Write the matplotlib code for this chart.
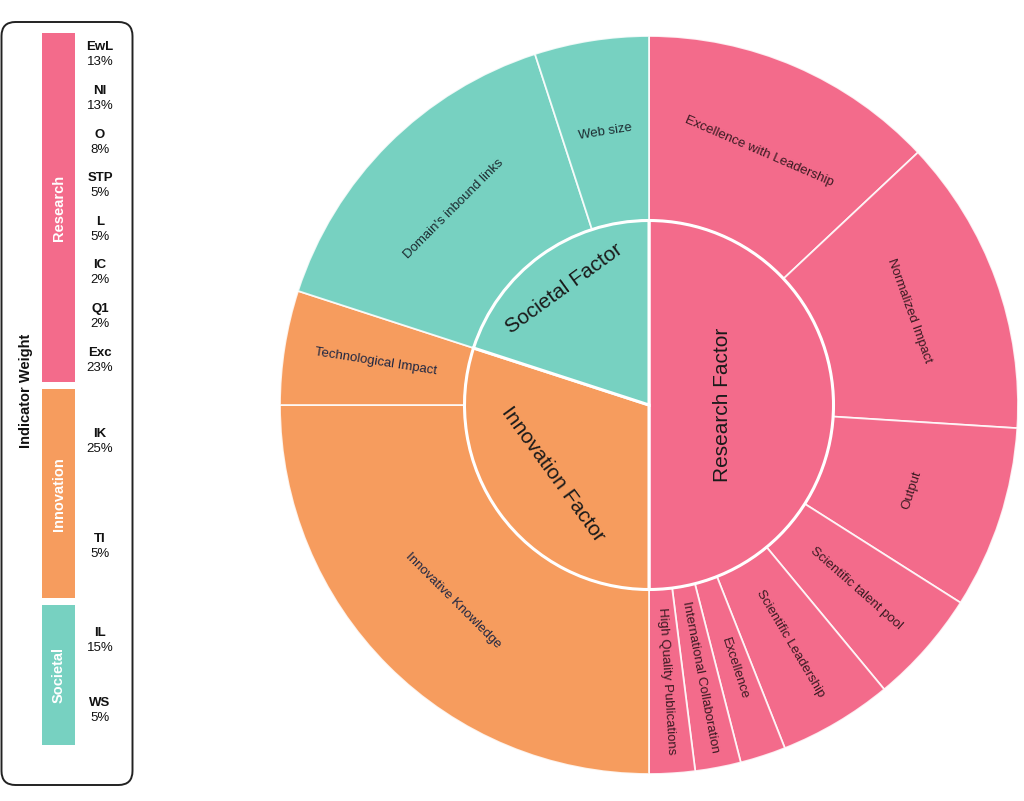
import matplotlib
matplotlib.use("Agg")
import matplotlib.pyplot as plt
import numpy as np
from matplotlib.patches import FancyBboxPatch

plt.rcParams['font.family'] = ['Liberation Sans', 'DejaVu Sans']

# ---------------- data ----------------
factors = ["Research Factor", "Innovation Factor", "Societal Factor"]
indicators = ["Excellence with Leadership", "Normalized Impact", "Output",
              "Scientific talent pool", "Scientific Leadership", "Excellence",
              "International Collaboration", "High Quality Publications",
              "Innovative Knowledge", "Technological Impact",
              "Domain's inbound links", "Web size"]
indicator_weights = [13, 13, 8, 5, 5, 2, 2, 2, 25, 5, 15, 5]
indicator_factor = [0, 0, 0, 0, 0, 0, 0, 0, 1, 1, 2, 2]

legend_groups = ["Research", "Innovation", "Societal"]
legend_codes = [["EwL", "NI", "O", "STP", "L", "IC", "Q1", "Exc"],
                ["IK", "TI"],
                ["IL", "WS"]]
legend_pcts = [["13%", "13%", "8%", "5%", "5%", "2%", "2%", "23%"],
               ["25%", "5%"],
               ["15%", "5%"]]

# ---------------- style ----------------
factor_colors = ["#F36B8B", "#F69C5E", "#77D1C1"]
label_colors = ["#3a1a22", "#1f2742", "#1c2b30"]
outer_modes = ["tan", "tan", "tan", "rad", "rad", "rad", "rad", "rad",
               "tan", "rad", "tan", "tan"]
inner_radii = [0.20, 0.32, 0.39]

factor_totals = [sum(w for w, f in zip(indicator_weights, indicator_factor) if f == i)
                 for i in range(len(factors))]
outer_colors = [factor_colors[f] for f in indicator_factor]

W, H = 1024, 801
fig = plt.figure(figsize=(W / 100, H / 100), dpi=100)
fig.patch.set_facecolor("white")

# ---------------- sunburst ----------------
ax = fig.add_axes([280 / W, 27 / H, 738 / W, 738 / H])

outer_w, _ = ax.pie(indicator_weights, radius=1.0, startangle=90, counterclock=False,
                    colors=outer_colors,
                    wedgeprops=dict(width=0.5, edgecolor=(1, 1, 1, 0.85), linewidth=1.3))
inner_w, _ = ax.pie(factor_totals, radius=0.5, startangle=90, counterclock=False,
                    colors=factor_colors,
                    wedgeprops=dict(edgecolor="white", linewidth=2.2))
ax.set_xlim(-1, 1)
ax.set_ylim(-1, 1)
ax.set_aspect("equal")
ax.axis("off")


def norm_rot(r):
    r = round(r % 360, 6)
    if 90 < r <= 270:
        r -= 180
    return r


for wdg, name, mode, f in zip(outer_w, indicators, outer_modes, indicator_factor):
    phi = (wdg.theta1 + wdg.theta2) / 2
    rad = np.deg2rad(phi)
    r = 0.75
    rot = norm_rot(phi if mode == "rad" else phi - 90)
    ax.text(r * np.cos(rad), r * np.sin(rad), name, rotation=rot,
            rotation_mode="anchor", ha="center", va="center",
            fontsize=9.5, color=label_colors[f])

for wdg, name, r in zip(inner_w, factors, inner_radii):
    phi = (wdg.theta1 + wdg.theta2) / 2
    rad = np.deg2rad(phi)
    rot = norm_rot(phi - 90)
    ax.text(r * np.cos(rad), r * np.sin(rad), name, rotation=rot,
            rotation_mode="anchor", ha="center", va="center",
            fontsize=15, color="#1a1a1a")

# ---------------- legend panel ----------------
lax = fig.add_axes([0, 0, 140 / W, 1])
lax.set_xlim(0, 140)
lax.set_ylim(H, 0)
lax.axis("off")

box = FancyBboxPatch((1.5, 22), 131, 763, boxstyle="round,pad=0,rounding_size=14",
                     facecolor="white", edgecolor="#222222", linewidth=1.4)
lax.add_patch(box)

scale = 6.98   # px per percent
gap = 7
y = 33
bar_x, bar_w = 58.5, 33
for gi, (grp, total) in enumerate(zip(legend_groups, factor_totals)):
    h = total * scale
    lax.bar(bar_x, h, bottom=y, width=bar_w, color=factor_colors[gi], align="center")
    lax.text(bar_x, y + h / 2, grp, rotation=90, ha="center", va="center",
             color="white", fontsize=10.5, fontweight="bold")
    n = len(legend_codes[gi])
    slot = h / n
    for k, (code, pct) in enumerate(zip(legend_codes[gi], legend_pcts[gi])):
        cy = y + slot * (k + 0.5)
        lax.text(100, cy - 7.5, code, ha="center", va="center", fontsize=9.5,
                 fontweight="bold", color="#111111")
        lax.text(100, cy + 7.5, pct, ha="center", va="center", fontsize=9.5,
                 color="#111111")
    y += h + gap

lax.text(26, 391, "Indicator Weight", rotation=90, ha="center", va="center",
         fontsize=10.5, fontweight="bold", color="#111111")

fig.savefig("out.png", dpi=100, facecolor="white")
